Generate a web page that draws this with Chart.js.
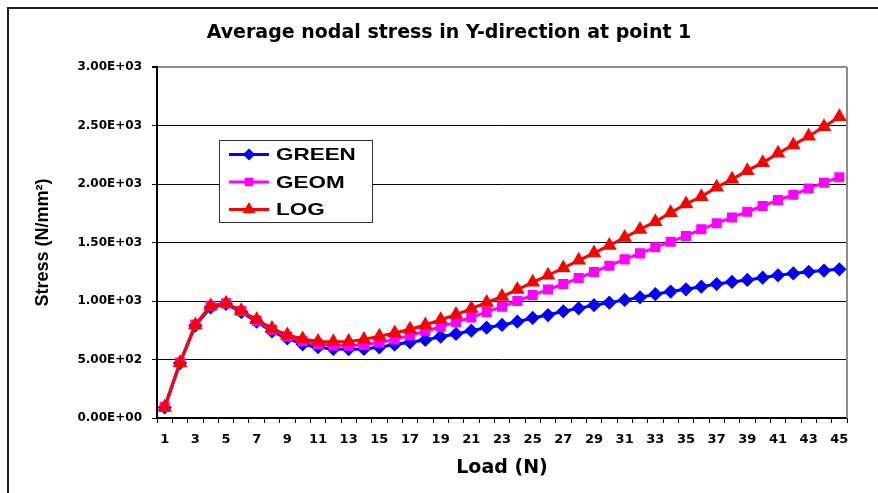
<!DOCTYPE html>
<html>
<head>
<meta charset="utf-8">
<title>Average nodal stress in Y-direction at point 1</title>
<script src="https://cdn.jsdelivr.net/npm/chart.js@4.4.1/dist/chart.umd.min.js"></script>
<style>
  html, body { margin: 0; padding: 0; background: #fff; }
  #wrap { position: relative; width: 878px; height: 493px; overflow: hidden; }
  #frame { position: absolute; left: 7px; top: 7px; width: 900px; height: 520px;
           border-left: 2px solid #1a1a1a; border-top: 2px solid #1a1a1a; pointer-events: none; }
  canvas { position: absolute; left: 0; top: 0; }
</style>
</head>
<body>
<div id="wrap">
  <canvas id="stressChart" width="878" height="493"></canvas>
  <div id="frame"></div>
</div>
<script>
// --- Data ---
const loads = ['1','2','3','4','5','6','7','8','9','10','11','12','13','14','15','16','17','18','19','20',
               '21','22','23','24','25','26','27','28','29','30','31','32','33','34','35','36','37','38','39','40',
               '41','42','43','44','45'];

const greenStress = [90, 470, 790, 945, 975, 905, 823, 740, 681, 630,
                     605, 590, 588, 590, 604, 628, 647, 667, 695, 718,
                     746, 772, 795, 823, 855, 880, 912, 937, 964, 986,
                     1009, 1031, 1058, 1081, 1100, 1122, 1145, 1163, 1180, 1199,
                     1220, 1236, 1250, 1260, 1271];

const geomStress = [95, 475, 798, 960, 980, 915, 832, 755, 697, 656,
                    632, 620, 618, 625, 645, 672, 706, 742, 780, 820,
                    860, 905, 952, 1000, 1050, 1098, 1145, 1196, 1248, 1302,
                    1356, 1407, 1459, 1507, 1556, 1613, 1664, 1714, 1763, 1812,
                    1862, 1908, 1962, 2011, 2057];

const logStress = [92, 472, 795, 958, 980, 917, 840, 766, 709, 676,
                   654, 652, 654, 672, 698, 726, 758, 795, 840, 884,
                   935, 988, 1038, 1098, 1160, 1220, 1282, 1348, 1410, 1475,
                   1542, 1612, 1678, 1755, 1829, 1892, 1972, 2040, 2114, 2182,
                   2262, 2333, 2408, 2490, 2575];

const yTickLabels = ['0.00E+00', '5.00E+02', '1.00E+03', '1.50E+03', '2.00E+03', '2.50E+03', '3.00E+03'];
const seriesNames = ['GREEN', 'GEOM', 'LOG'];
const chartTitle = 'Average nodal stress in Y-direction at point 1';

const wideFont = "'DejaVu Sans', sans-serif";
const arialFont = "'Liberation Sans', Arial, sans-serif";

// title sits a bit right of the canvas centre in the original, so draw it by hand
const sheetTitle = {
    id: 'sheetTitle',
    afterDraw(chart) {
        const ctx = chart.ctx;
        ctx.save();
        ctx.fillStyle = '#000';
        ctx.font = 'bold 19px ' + wideFont;
        ctx.textAlign = 'center';
        ctx.textBaseline = 'middle';
        ctx.fillText(chartTitle, 449, 33);
        ctx.restore();
    }
};

// legend box drawn inside the plot, like the original sheet
const boxLegend = {
    id: 'boxLegend',
    afterDraw(chart) {
        const ctx = chart.ctx;
        const bx = 219.5, by = 140.5, bw = 153, bh = 82;
        const rowY = [154.5, 182, 209.5];
        ctx.save();
        ctx.fillStyle = '#fff';
        ctx.fillRect(bx, by, bw, bh);
        ctx.strokeStyle = '#333';
        ctx.lineWidth = 1;
        ctx.strokeRect(bx, by, bw, bh);

        chart.data.datasets.forEach((ds, i) => {
            const yy = rowY[i];
            ctx.strokeStyle = ds.borderColor;
            ctx.lineWidth = ds.borderWidth;
            ctx.beginPath();
            ctx.moveTo(229, yy);
            ctx.lineTo(269, yy);
            ctx.stroke();
            ctx.fillStyle = ds.pointBackgroundColor;
            ctx.strokeStyle = ds.pointBorderColor;
            Chart.helpers.drawPoint(ctx, {
                pointStyle: ds.pointStyle, rotation: 0,
                radius: ds.pointRadius - 1, borderWidth: 1
            }, 249, yy);

            // the sheet's legend text is a stretched Arial
            ctx.save();
            ctx.translate(276, yy + 1);
            ctx.scale(1.32, 1);
            ctx.fillStyle = '#000';
            ctx.font = 'bold 17px ' + arialFont;
            ctx.textBaseline = 'middle';
            ctx.textAlign = 'left';
            ctx.fillText(ds.label, 0, 0);
            ctx.restore();
        });
        ctx.restore();
    }
};

// grey border on the right side of the plot area
const plotBorder = {
    id: 'plotBorder',
    beforeDatasetsDraw(chart) {
        const { ctx, chartArea } = chart;
        ctx.save();
        ctx.strokeStyle = '#8c8c8c';
        ctx.lineWidth = 2;
        ctx.beginPath();
        ctx.moveTo(chartArea.right, chartArea.top);
        ctx.lineTo(chartArea.right, chartArea.bottom);
        ctx.stroke();
        ctx.restore();
    }
};

const ctx = document.getElementById('stressChart');

new Chart(ctx, {
    type: 'line',
    data: {
        labels: loads,
        datasets: [
            {
                label: seriesNames[0],
                data: greenStress,
                borderColor: '#0000FF',
                backgroundColor: '#0000FF',
                pointBackgroundColor: '#0000FF',
                pointBorderColor: '#0000FF',
                pointStyle: 'rectRot',
                pointRadius: 5,
                borderWidth: 3,
                order: 3
            },
            {
                label: seriesNames[1],
                data: geomStress,
                borderColor: '#FF00FF',
                backgroundColor: '#FF00FF',
                pointBackgroundColor: '#FF00FF',
                pointBorderColor: '#FF00FF',
                pointStyle: 'rect',
                pointRadius: 5,
                borderWidth: 3,
                order: 2
            },
            {
                label: seriesNames[2],
                data: logStress,
                borderColor: '#FF0000',
                backgroundColor: '#FF0000',
                pointBackgroundColor: '#FF0000',
                pointBorderColor: '#FF0000',
                pointStyle: 'triangle',
                pointRadius: 5.5,
                borderWidth: 3,
                order: 1
            }
        ]
    },
    options: {
        responsive: false,
        animation: false,
        devicePixelRatio: 1,
        layout: { padding: { top: 67, left: 10, right: 31, bottom: 0 } },
        elements: { line: { tension: 0 } },
        plugins: {
            legend: { display: false },
            tooltip: { enabled: false },
            title: { display: false }
        },
        scales: {
            x: {
                type: 'category',
                offset: true,
                grid: {
                    offset: true,
                    drawOnChartArea: false,
                    tickColor: '#000',
                    tickLength: 5
                },
                border: { color: '#000', width: 1.5 },
                ticks: {
                    autoSkip: false,
                    maxRotation: 0,
                    minRotation: 0,
                    padding: 9,
                    color: '#000',
                    font: { family: wideFont, size: 13, weight: 'bold' },
                    callback: (val, i) => (i % 2 === 0 ? loads[i] : '')
                },
                title: {
                    display: true,
                    text: 'Load (N)',
                    color: '#000',
                    font: { family: wideFont, size: 19, weight: 'bold' },
                    padding: { top: 0, bottom: 14 }
                },
                afterFit: scale => { scale.height = 75; }
            },
            y: {
                min: 0,
                max: 3000,
                grid: {
                    color: c => (c.tick && c.tick.value === 3000 ? '#8c8c8c' : '#000'),
                    lineWidth: c => (c.tick && c.tick.value === 3000 ? 2 : 1),
                    tickColor: '#000',
                    tickLength: 5
                },
                border: { color: '#000', width: 2 },
                ticks: {
                    stepSize: 500,
                    padding: 10,
                    color: '#000',
                    font: { family: wideFont, size: 12, weight: 'bold' },
                    callback: (val, i) => yTickLabels[i]
                },
                title: {
                    display: true,
                    text: 'Stress (N/mm\u00B2)',
                    color: '#000',
                    font: { family: arialFont, size: 18, weight: 'bold' },
                    padding: { top: 22.2, bottom: 0 }
                },
                afterFit: scale => { scale.width = 147; }
            }
        }
    },
    plugins: [plotBorder, boxLegend, sheetTitle]
});
</script>
</body>
</html>
